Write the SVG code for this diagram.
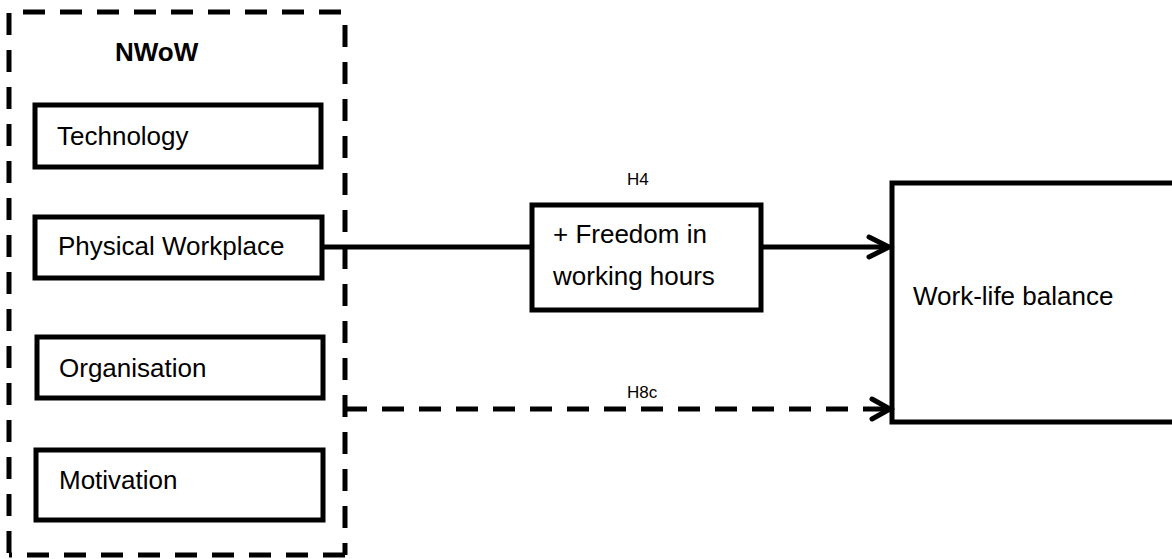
<svg xmlns="http://www.w3.org/2000/svg" width="1172" height="559" viewBox="0 0 1172 559">
<style>
.box{fill:#fff;stroke:#000;stroke-width:5}
.dash{fill:none;stroke:#000;stroke-width:5;stroke-dasharray:22 15}
.lbl{font-family:"Liberation Sans",Arial,sans-serif;font-size:26px;fill:#000}
.hyp{font-family:"Liberation Sans",Arial,sans-serif;font-size:17px;fill:#000}
.conn{fill:none;stroke:#000;stroke-width:5}
.head{fill:none;stroke:#000;stroke-width:5;stroke-linecap:round;stroke-linejoin:miter}
</style>
<rect width="1172" height="559" fill="#fff"/>
<g id="nwow">
<path class="dash" d="M23,12 H347 M345,25 V555 M345,555 H9 M9,13 V555"/>
<text x="115" y="61" class="lbl" style="font-weight:bold">NWoW</text>
</g>
<g id="technology">
<rect class="box" x="35" y="105" width="286" height="62"/>
<text x="57" y="145" class="lbl">Technology</text>
</g>
<g id="physical-workplace">
<rect class="box" x="35" y="217" width="287" height="61"/>
<text x="58" y="255" class="lbl">Physical Workplace</text>
</g>
<g id="organisation">
<rect class="box" x="37" y="337" width="286" height="61"/>
<text x="59" y="377" class="lbl">Organisation</text>
</g>
<g id="motivation">
<rect class="box" x="36" y="450" width="287" height="70"/>
<text x="59" y="489" class="lbl">Motivation</text>
</g>
<g id="freedom">
<rect class="box" x="532" y="205" width="229" height="105"/>
<text x="553" y="243" class="lbl">+ Freedom in</text>
<text x="553" y="285" class="lbl">working hours</text>
</g>
<g id="work-life-balance">
<path class="conn" d="M1175,183 H892 V422 H1175"/>
<text x="913" y="305" class="lbl">Work-life balance</text>
</g>
<g id="connectors">
<line class="conn" x1="322" y1="247" x2="532" y2="247"/>
<line class="conn" x1="761" y1="247" x2="888" y2="247"/>
<polyline class="head" points="869,237 889,247 869,257"/>
<text x="627" y="185" class="hyp">H4</text>
<line class="conn" x1="345" y1="409" x2="886" y2="409" style="stroke-dasharray:22 15"/>
<polyline class="head" points="872,399 890,409 872,419"/>
<text x="627" y="398" class="hyp">H8c</text>
</g>
</svg>
